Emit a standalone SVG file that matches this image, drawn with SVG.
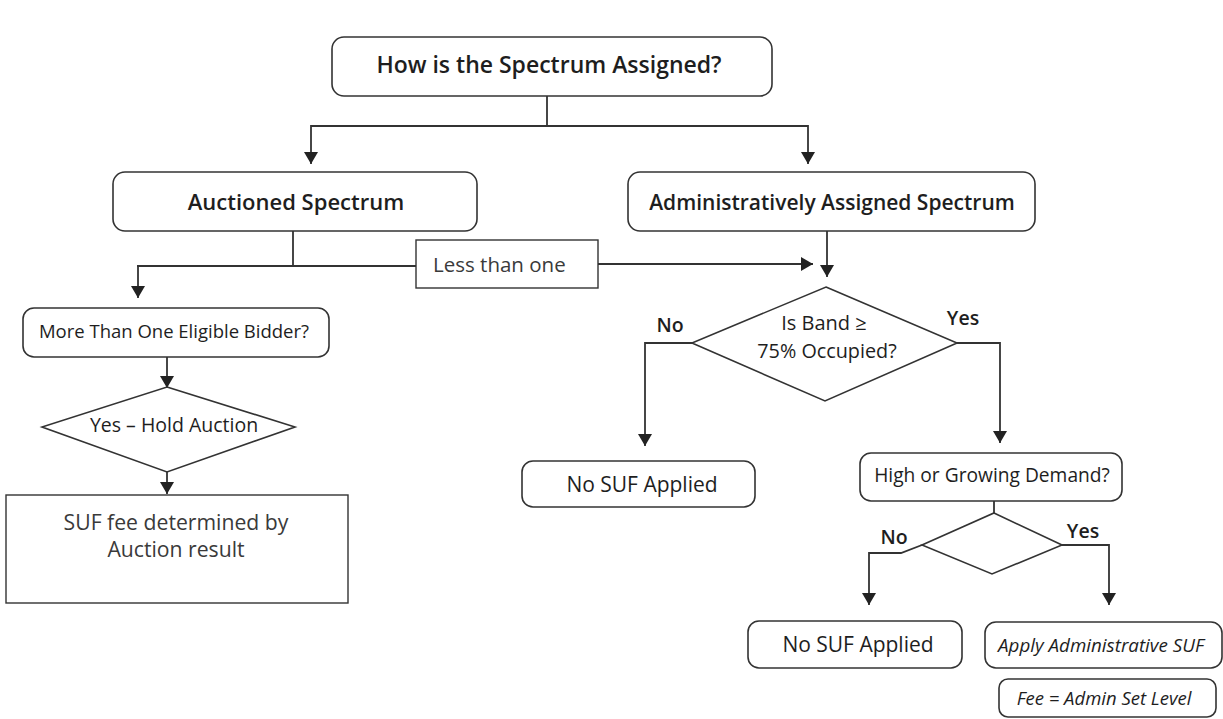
<svg xmlns="http://www.w3.org/2000/svg" width="1223" height="719" viewBox="0 0 1223 719">
<defs>
<marker id="ah" markerUnits="userSpaceOnUse" markerWidth="14" markerHeight="14" refX="12" refY="7" orient="auto">
<path d="M0,0 L12,7 L0,14 z" fill="#222"/>
</marker>
<style>
.box{fill:#fff;stroke:#333;stroke-width:1.6}
.sq{fill:#fff;stroke:#333;stroke-width:1.4}
.c{fill:none;stroke:#333;stroke-width:1.8}
.ca{fill:none;stroke:#333;stroke-width:1.8;marker-end:url(#ah)}
.t{font-family:"Open Sans",Lato,sans-serif;fill:#1e1e1e;text-anchor:middle}
.h{font-weight:600}
.s{font-style:italic}
.yn{font-size:19.5px;font-weight:600}
.l{font-family:"Open Sans",Lato,sans-serif;fill:#3a3a3a}
</style>
</defs>
<rect width="1223" height="719" fill="#fff"/>
<g id="connectors">
<path class="c" d="M547,96 V126 M311,126 H808"/>
<path class="ca" d="M311,125 V164"/>
<path class="ca" d="M808,125 V164"/>
<path class="c" d="M293,231 V266 H137"/>
<path class="ca" d="M138,265 V298"/>
<path class="c" d="M293,266 H416"/>
<path class="ca" d="M598,264 H813"/>
<path class="ca" d="M827,230 V277"/>
<path class="ca" d="M692,343 H645 V446"/>
<path class="ca" d="M957,343 H1000 V443"/>
<path class="ca" d="M167,357 V388"/>
<path class="ca" d="M167,472 V494"/>
<path class="c" d="M994,501 V513"/>
<path class="ca" d="M922,545 L901,553 H869 V605"/>
<path class="ca" d="M1062,545 H1109 V605"/>
</g>
<g id="n-top"><rect class="box" x="332" y="37" width="440" height="59" rx="12"/><text class="t h" x="549" y="73" font-size="23">How is the Spectrum Assigned?</text></g>
<g id="n-auctioned"><rect class="box" x="113" y="172" width="364" height="59" rx="12"/><text class="t h" x="296" y="210" font-size="22">Auctioned Spectrum</text></g>
<g id="n-admin"><rect class="box" x="628" y="172" width="407" height="59" rx="12"/><text class="t h" x="832" y="210" font-size="21">Administratively Assigned Spectrum</text></g>
<g id="n-less"><rect class="sq" x="416" y="240" width="182" height="48"/><text class="l" x="433" y="272" font-size="20.5">Less than one</text></g>
<g id="n-bidder"><rect class="box" x="23" y="308" width="306" height="49" rx="11"/><text class="t" x="174" y="338" font-size="18.5">More Than One Eligible Bidder?</text></g>
<g id="n-hold"><polygon class="box" points="167,387 295,427 167,472 42,427"/><text class="t" x="174" y="432" font-size="19.5">Yes – Hold Auction</text></g>
<g id="n-suffee"><rect class="sq" x="6" y="495" width="342" height="108"/><text class="l" x="176" y="530" text-anchor="middle" font-size="21.2">SUF fee determined by</text><text class="l" x="176" y="557" text-anchor="middle" font-size="21.2">Auction result</text></g>
<g id="n-band"><polygon class="box" points="826,287 957,343 825,401 692,343"/><text class="t" x="824" y="330" font-size="20">Is Band ≥</text><text class="t" x="827" y="358" font-size="19.8">75% Occupied?</text><text class="t yn" x="670" y="332">No</text><text class="t yn" x="963" y="325">Yes</text></g>
<g id="n-nosuf1"><rect class="box" x="522" y="461" width="233" height="46" rx="11"/><text class="t" x="642" y="492" font-size="21">No SUF Applied</text></g>
<g id="n-demand"><rect class="box" x="860" y="453" width="262" height="48" rx="11"/><text class="t" x="992" y="482" font-size="19.2">High or Growing Demand?</text></g>
<g id="n-demand-d"><polygon class="box" points="994,513 1062,545 992,574 922,545"/><text class="t yn" x="894" y="544">No</text><text class="t yn" x="1083" y="538">Yes</text></g>
<g id="n-nosuf2"><rect class="box" x="748" y="621" width="214" height="47" rx="11"/><text class="t" x="858" y="652" font-size="21">No SUF Applied</text></g>
<g id="n-apply"><rect class="box" x="985" y="622" width="237" height="46" rx="11"/><text class="t s" x="1101" y="652" font-size="18.8">Apply Administrative SUF</text></g>
<g id="n-fee"><rect class="box" x="999" y="679" width="217" height="38" rx="9"/><text class="t s" x="1104" y="705" font-size="18.5">Fee = Admin Set Level</text></g>
</svg>
